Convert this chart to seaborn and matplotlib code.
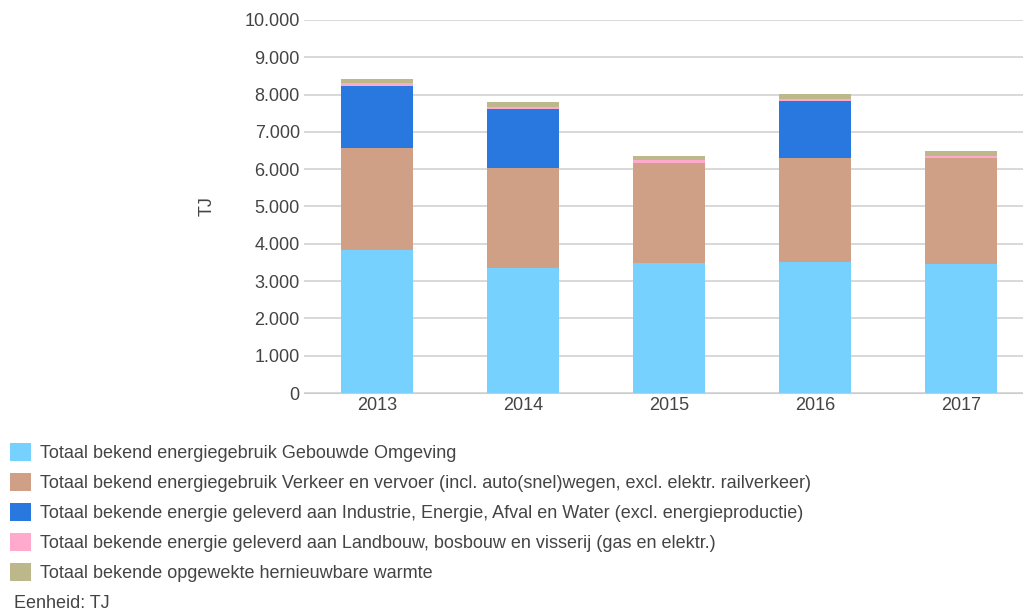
import numpy as np
import pandas as pd
import matplotlib
matplotlib.use('Agg')
import matplotlib.pyplot as plt
import seaborn as sns
from matplotlib.patches import Patch
from matplotlib.ticker import FuncFormatter

# Data (TJ)
years = ['2013', '2014', '2015', '2016', '2017']
gebouwde_omgeving = [3830, 3350, 3490, 3510, 3460]
verkeer_vervoer = [2740, 2670, 2680, 2780, 2850]
industrie = [1660, 1590, 0, 1550, 0]
landbouw = [90, 50, 90, 40, 40]
hernieuwbare_warmte = [90, 130, 90, 130, 130]

labels = [
    'Totaal bekend energiegebruik Gebouwde Omgeving',
    'Totaal bekend energiegebruik Verkeer en vervoer (incl. auto(snel)wegen, excl. elektr. railverkeer)',
    'Totaal bekende energie geleverd aan Industrie, Energie, Afval en Water (excl. energieproductie)',
    'Totaal bekende energie geleverd aan Landbouw, bosbouw en visserij (gas en elektr.)',
    'Totaal bekende opgewekte hernieuwbare warmte',
]
colors = ['#76D1FF', '#CFA085', '#2878E0', '#FFAACC', '#BDB88C']

sns.set_style('white')
plt.rcParams['font.family'] = ['Liberation Sans', 'DejaVu Sans']
text_color = '#444444'
fs = 13

fig = plt.figure(figsize=(10.23, 6.12), dpi=100)
ax = fig.add_axes([304 / 1023, 219 / 612, 730 / 1023, 373 / 612])

series = [gebouwde_omgeving, verkeer_vervoer, industrie, landbouw, hernieuwbare_warmte]
bottom = np.zeros(len(years))
for vals, col in zip(series, colors):
    df = pd.DataFrame({'jaar': years, 'waarde': vals})
    sns.barplot(data=df, x='jaar', y='waarde', color=col, width=0.49,
                bottom=bottom, ax=ax, saturation=1, linewidth=0, errorbar=None)
    bottom = bottom + np.array(vals)

ax.set_ylim(0, 10000)
ax.set_xlim(-0.5, 4.5)
ax.set_yticks(range(0, 10001, 1000))
ax.yaxis.set_major_formatter(FuncFormatter(lambda v, p: f'{int(v):,}'.replace(',', '.')))
ax.grid(axis='y', color='#d6d6d6', linewidth=1.3)
ax.set_axisbelow(True)
for s in ['top', 'right', 'left']:
    ax.spines[s].set_visible(False)
ax.spines['bottom'].set_color('#cccccc')
ax.tick_params(axis='y', length=0, pad=3, labelsize=fs, labelcolor=text_color)
ax.tick_params(axis='x', length=0, pad=3, labelsize=fs, labelcolor=text_color)
ax.set_xlabel('')
ax.set_ylabel('TJ', fontsize=fs, color=text_color, labelpad=21)

handles = [Patch(facecolor=c, edgecolor='none') for c in colors]
fig.legend(handles, labels, loc='upper left', bbox_to_anchor=(10 / 1023, 1 - 443 / 612),
           frameon=False, fontsize=fs, labelcolor=text_color,
           handlelength=1.17, handleheight=1.15, handletextpad=0.5,
           labelspacing=0.61, borderaxespad=0, borderpad=0)
fig.text(14 / 1023, 1 - 603 / 612, 'Eenheid: TJ', fontsize=fs, color=text_color,
         va='center', ha='left')

fig.savefig('out.png', dpi=100)
